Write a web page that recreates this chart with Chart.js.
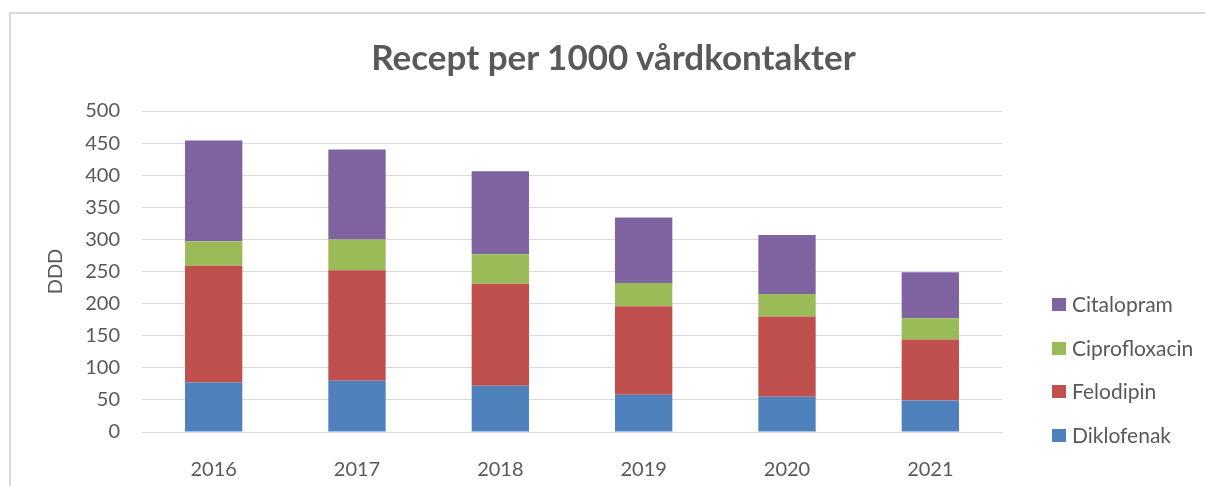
<!DOCTYPE html>
<html>
<head>
<meta charset="utf-8">
<script src="https://cdn.jsdelivr.net/npm/chart.js@4"></script>
<style>
  body { margin: 0; background: #fff; }
  #wrap { position: relative; width: 1205px; height: 486px; overflow: hidden; }
  #frame { position: absolute; left: 9px; top: 12px; width: 1300px; height: 600px;
           border-left: 2px solid #d9d9d9; border-top: 2px solid #d9d9d9; }
  #title { position: absolute; left: 0; width: 1227px; top: 36px; text-align: center;
           font-family: Lato, "Open Sans", sans-serif; font-weight: bold; font-size: 35px;
           line-height: 40px; color: #595959; }
  #legend { position: absolute; left: 1052px; top: 291px; font-family: Lato, "Open Sans", sans-serif;
            font-size: 21px; color: #595959; }
  .item { height: 43.5px; display: flex; align-items: flex-start; }
  .box { width: 14px; height: 13px; margin-right: 6px; margin-top: 7px; }
</style>
</head>
<body>
<div id="wrap">
  <div id="frame"></div>
  <canvas id="chart" width="1205" height="486"></canvas>
  <div id="title">Recept per 1000 vårdkontakter</div>
  <div id="legend"></div>
</div>
<script>
const years = ["2016", "2017", "2018", "2019", "2020", "2021"];
const diklofenak = [77, 80, 72, 58, 55, 49];
const felodipin = [182, 172, 159, 138, 125, 95];
const ciprofloxacin = [38, 48, 46, 36, 35, 33];
const citalopram = [157, 140, 129, 102, 92, 72];
const seriesNames = ["Diklofenak", "Felodipin", "Ciprofloxacin", "Citalopram"];
const seriesColors = ["#4f81bd", "#c0504d", "#9bbb59", "#8064a2"];
const yTicks = [0, 50, 100, 150, 200, 250, 300, 350, 400, 450, 500];

const font = "Lato, 'Open Sans', sans-serif";
const textColor = "#595959";
const grid = "#d9d9d9";

const values = [diklofenak, felodipin, ciprofloxacin, citalopram];

const datasets = seriesNames.map((name, i) => ({
  label: name,
  data: values[i],
  backgroundColor: seriesColors[i],
  borderWidth: 0,
  barPercentage: 1,
  categoryPercentage: 0.4
}));

new Chart(document.getElementById("chart"), {
  type: "bar",
  data: { labels: years, datasets: datasets },
  options: {
    responsive: false,
    animation: false,
    layout: { padding: { left: 40, right: 203, top: 111, bottom: 0 } },
    plugins: {
      legend: { display: false },
      tooltip: { enabled: false },
      title: { display: false }
    },
    scales: {
      x: {
        stacked: true,
        grid: { display: false },
        border: { color: grid, width: 1 },
        ticks: { color: textColor, font: { family: font, size: 20 }, padding: 18 },
        afterFit: s => { s.height = 54; }
      },
      y: {
        stacked: true,
        min: 0,
        max: 500,
        afterBuildTicks: s => { s.ticks = yTicks.map(v => ({ value: v })); },
        grid: { color: grid, lineWidth: 1, drawTicks: false },
        border: { display: false },
        ticks: { color: textColor, font: { family: font, size: 20 }, padding: 22 },
        title: { display: true, text: "DDD", color: textColor, font: { family: font, size: 20 } },
        afterFit: s => { s.width = 102; }
      }
    }
  }
});

// legend, reversed like the original
const legend = document.getElementById("legend");
for (let i = seriesNames.length - 1; i >= 0; i--) {
  const row = document.createElement("div");
  row.className = "item";
  row.innerHTML = `<span class="box" style="background:${seriesColors[i]}"></span><span>${seriesNames[i]}</span>`;
  legend.appendChild(row);
}
</script>
</body>
</html>
